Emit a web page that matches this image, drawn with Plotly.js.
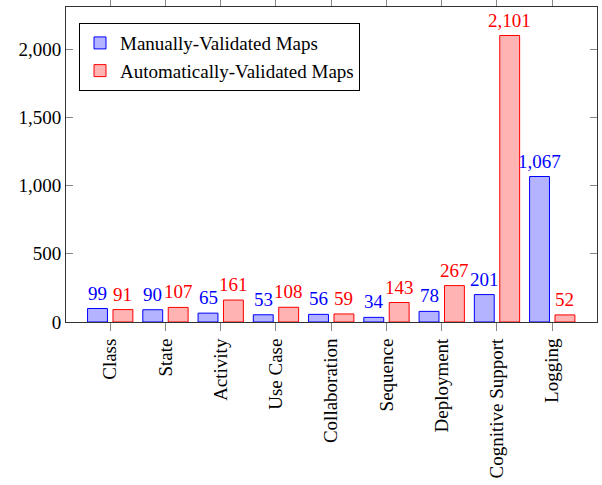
<!DOCTYPE html>
<html><head><meta charset="utf-8">
<script src="https://cdn.plot.ly/plotly-3.0.1.min.js"></script>
<style>html,body{margin:0;padding:0;background:#fff}</style>
</head><body>
<div id="chart" style="width:602px;height:485px"></div>
<script>
const categories = ["Class","State","Activity","Use Case","Collaboration","Sequence","Deployment","Cognitive Support","Logging"];
const manualValues = [99,90,65,53,56,34,78,201,1067];
const autoValues = [91,107,161,108,59,143,267,2101,52];
const seriesNames = ["Manually-Validated Maps","Automatically-Validated Maps"];
const yTickVals = [0,500,1000,1500,2000];

const FONT = "Liberation Serif, Times New Roman, Times, serif";
const FS = 19;
const fmt = v => v.toLocaleString('en-US');

const traces = [
  {type:'bar', name:seriesNames[0], x:categories, y:manualValues, width:0.36, offset:-0.41,
   marker:{color:'rgb(179,179,255)', line:{color:'#0000ff', width:1}}},
  {type:'bar', name:seriesNames[1], x:categories, y:autoValues, width:0.36, offset:0.05,
   marker:{color:'rgb(255,179,179)', line:{color:'#ff0000', width:1}}}
];

const annotations = [];
categories.forEach((c,i)=>{
  annotations.push({x:c, y:manualValues[i], xref:'x', yref:'y', text:fmt(manualValues[i]), showarrow:false,
    xanchor:'center', yanchor:'bottom', xshift:-12.7, yshift:3, font:{family:FONT,size:FS,color:'#0000ff'}});
  annotations.push({x:c, y:autoValues[i], xref:'x', yref:'y', text:fmt(autoValues[i]), showarrow:false,
    xanchor:'center', yanchor:'bottom', xshift:12.7, yshift:3, font:{family:FONT,size:FS,color:'#ff0000'}});
});

const layout = {
  width:602, height:485,
  margin:{l:66, r:5, t:7, b:163},
  paper_bgcolor:'#fff', plot_bgcolor:'#fff',
  font:{family:FONT, size:FS, color:'#000'},
  showlegend:true,
  legend:{x:0.0245, y:0.949, xanchor:'left', yanchor:'top', bordercolor:'#000', borderwidth:1,
    bgcolor:'#fff', font:{family:FONT,size:FS,color:'#000'}, tracegroupgap:0},
  xaxis:{type:'category', range:[-0.8,8.81], showline:true, linecolor:'#333', linewidth:1,
    mirror:'ticks', ticks:'outside', ticklen:8, tickcolor:'#888', tickwidth:1,
    tickangle:-90, showgrid:false, zeroline:false, fixedrange:true},
  yaxis:{range:[0,2310], showline:true, linecolor:'#333', linewidth:1, mirror:'ticks',
    ticks:'inside', ticklen:7, tickcolor:'#888', tickwidth:1, tickvals:yTickVals,
    tickformat:',', showgrid:false, zeroline:false, fixedrange:true},
  annotations:annotations
};

Plotly.newPlot('chart', traces, layout, {displayModeBar:false, staticPlot:true});
</script>
</body></html>
